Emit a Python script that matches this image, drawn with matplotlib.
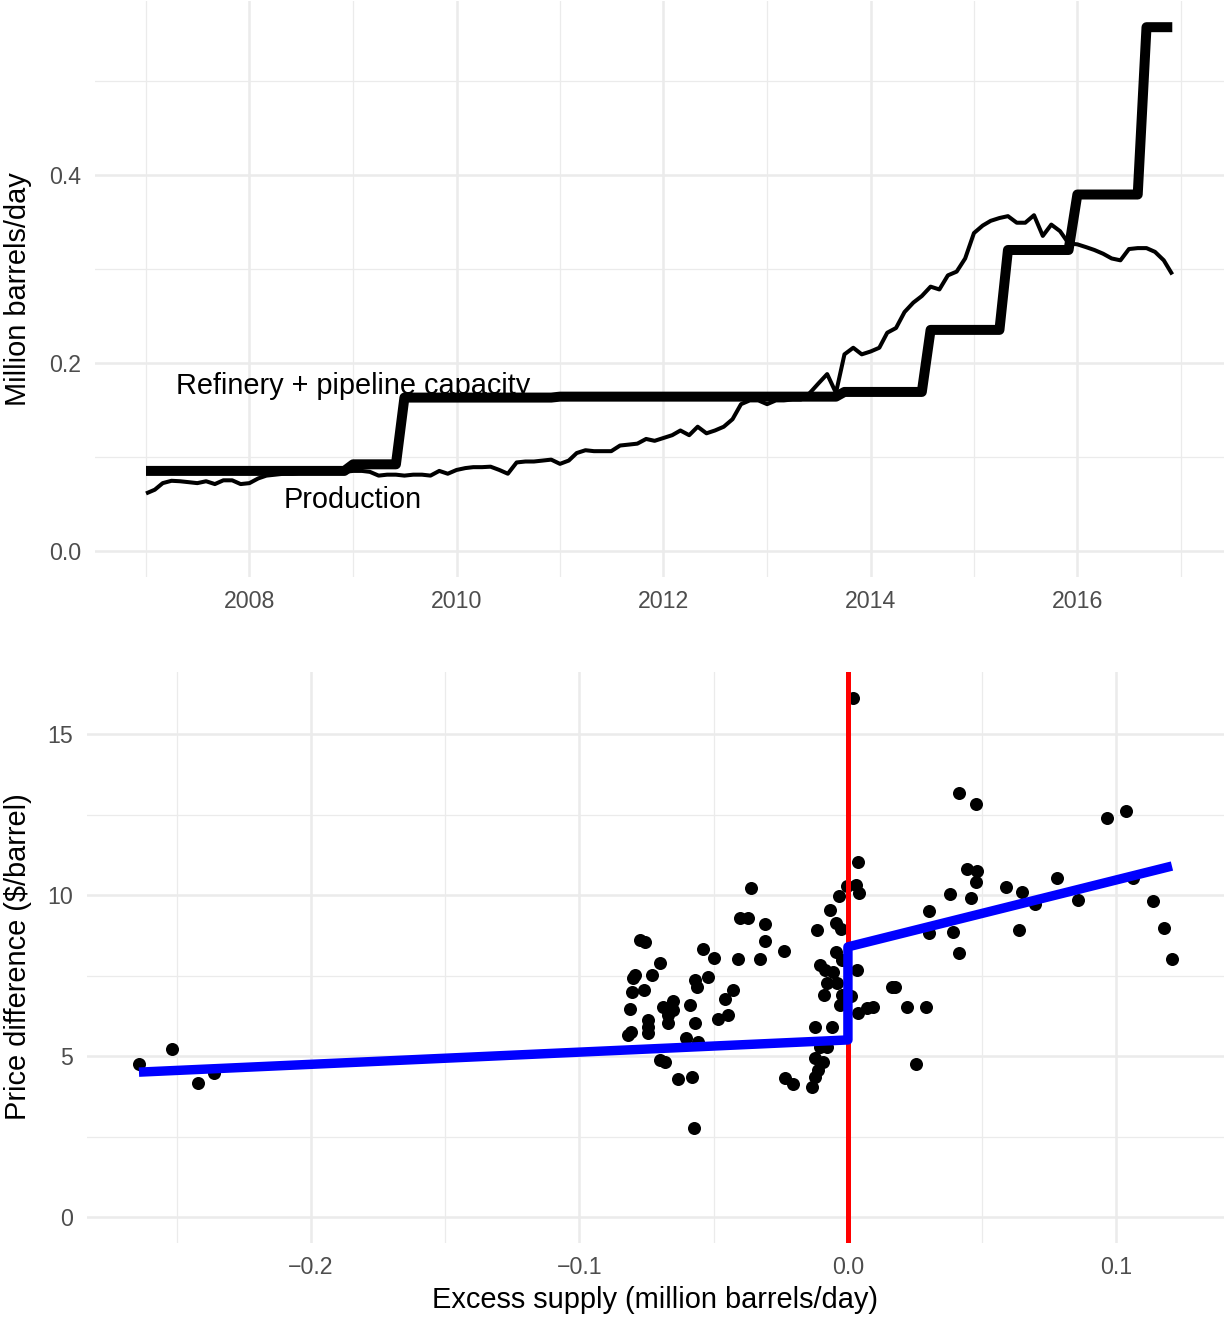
import pandas as pd
import matplotlib
matplotlib.use("Agg")
import matplotlib.pyplot as plt
import matplotlib.dates as mdates

plt.rcParams['font.family'] = ['Liberation Sans', 'DejaVu Sans']

# ---- top panel data: monthly, Jan 2007 .. Dec 2016 (million barrels/day)
months = pd.date_range('2007-01-01', periods=120, freq='MS')

production = [
    0.061, 0.065, 0.072, 0.0745, 0.074, 0.073, 0.072, 0.074, 0.071, 0.075, 0.075, 0.071,   # 2007
    0.072, 0.077, 0.080, 0.081, 0.082, 0.082, 0.083, 0.083, 0.084, 0.084, 0.083, 0.084,    # 2008
    0.085, 0.085, 0.084, 0.080, 0.081, 0.081, 0.080, 0.081, 0.081, 0.080, 0.085, 0.082,    # 2009
    0.086, 0.088, 0.089, 0.089, 0.0895, 0.086, 0.082, 0.094, 0.095, 0.095, 0.096, 0.097,   # 2010
    0.0925, 0.096, 0.104, 0.107, 0.106, 0.106, 0.106, 0.112, 0.113, 0.114, 0.119, 0.117,   # 2011
    0.120, 0.123, 0.128, 0.123, 0.132, 0.125, 0.128, 0.132, 0.140, 0.156, 0.160, 0.160,    # 2012
    0.156, 0.160, 0.160, 0.161, 0.161, 0.168, 0.178, 0.188, 0.168, 0.209, 0.216, 0.209,    # 2013
    0.212, 0.216, 0.232, 0.237, 0.254, 0.264, 0.271, 0.281, 0.278, 0.293, 0.297, 0.311,    # 2014
    0.338, 0.346, 0.351, 0.354, 0.356, 0.349, 0.349, 0.357, 0.335, 0.347, 0.340, 0.327,    # 2015
    0.326, 0.323, 0.320, 0.316, 0.311, 0.309, 0.321, 0.322, 0.322, 0.318, 0.309, 0.294,    # 2016
]

capacity = [
    0.085, 0.085, 0.085, 0.085, 0.085, 0.085, 0.085, 0.085, 0.085, 0.085, 0.085, 0.085,  # 2007
    0.085, 0.085, 0.085, 0.085, 0.085, 0.085, 0.085, 0.085, 0.085, 0.085, 0.085, 0.085,  # 2008
    0.092, 0.092, 0.092, 0.092, 0.092, 0.092, 0.163, 0.163, 0.163, 0.163, 0.163, 0.163,  # 2009
    0.163, 0.163, 0.163, 0.163, 0.163, 0.163, 0.163, 0.163, 0.163, 0.163, 0.163, 0.163,  # 2010
    0.164, 0.164, 0.164, 0.164, 0.164, 0.164, 0.164, 0.164, 0.164, 0.164, 0.164, 0.164,  # 2011
    0.164, 0.164, 0.164, 0.164, 0.164, 0.164, 0.164, 0.164, 0.164, 0.164, 0.164, 0.164,  # 2012
    0.164, 0.164, 0.164, 0.164, 0.164, 0.164, 0.164, 0.164, 0.164, 0.169, 0.169, 0.169,  # 2013
    0.169, 0.169, 0.169, 0.169, 0.169, 0.169, 0.169, 0.235, 0.235, 0.235, 0.235, 0.235,  # 2014
    0.235, 0.235, 0.235, 0.235, 0.320, 0.320, 0.320, 0.320, 0.320, 0.320, 0.320, 0.320,  # 2015
    0.379, 0.379, 0.379, 0.379, 0.379, 0.379, 0.379, 0.379, 0.557, 0.557, 0.557, 0.557,  # 2016
]

# ---- bottom panel data
excess_supply = [
    -0.2641, -0.2518, -0.2421, -0.2361,
    -0.0812, -0.0804, -0.0760, -0.0793, -0.0801, -0.0730, -0.0775, -0.0756, -0.0700,
    -0.0689, -0.0652, -0.0670, -0.0652, -0.0670, -0.0745, -0.0745, -0.0745, -0.0808,
    -0.0819, -0.0603, -0.0559, -0.0700, -0.0682, -0.0633, -0.0581, -0.0574, -0.0588,
    -0.0570, -0.0540, -0.0499, -0.0521, -0.0570, -0.0562, -0.0458, -0.0428, -0.0484,
    -0.0447, -0.0410, -0.0402, -0.0372, -0.0361, -0.0309, -0.0309, -0.0328, -0.0238,
    -0.0115, -0.0067, -0.0045, -0.0026, -0.0034, -0.0004, 0.0030, 0.0041, 0.0037,
    0.0019, -0.0045, -0.0022, -0.0104, -0.0086, -0.0056, 0.0034, -0.0078, -0.0041,
    -0.0089, -0.0022, 0.0011, -0.0030, 0.0037, 0.0071, 0.0093, -0.0123, -0.0060,
    -0.0104, -0.0078, -0.0123, -0.0093, -0.0112, -0.0123, -0.0134, -0.0235, -0.0205,
    0.0164, 0.0175, 0.0220, 0.0291, 0.0253, 0.0302, 0.0302, 0.0391, 0.0413, 0.0380,
    0.0458, 0.0443, 0.0480, 0.0477, 0.0413, 0.0477, 0.0588, 0.0648, 0.0637, 0.0696,
    0.0778, 0.0857, 0.0965, 0.1035, 0.1061, 0.1136, 0.1177, 0.1207,
]
price_diff = [
    4.75, 5.22, 4.16, 4.47,
    6.46, 6.99, 7.05, 7.52, 7.42, 7.52, 8.60, 8.54, 7.89,
    6.52, 6.71, 6.27, 6.43, 6.02, 6.12, 5.90, 5.71, 5.75,
    5.65, 5.56, 5.43, 4.88, 4.81, 4.29, 4.35, 2.76, 6.58,
    6.02, 8.32, 8.04, 7.45, 7.36, 7.14, 6.77, 7.05, 6.15,
    6.27, 8.01, 9.29, 9.29, 10.22, 9.10, 8.57, 8.01, 8.26,
    8.91, 9.53, 9.13, 8.94, 9.97, 10.28, 10.31, 10.06, 11.02,
    16.12, 8.23, 7.98, 7.83, 7.67, 7.61, 7.67, 7.27, 7.27,
    6.89, 6.89, 6.86, 6.58, 6.34, 6.49, 6.52, 5.90, 5.90,
    5.28, 5.28, 4.94, 4.81, 4.57, 4.35, 4.04, 4.32, 4.13,
    7.14, 7.14, 6.52, 6.52, 4.75, 9.50, 8.82, 8.85, 8.20, 10.03,
    9.91, 10.81, 10.75, 10.40, 13.17, 12.83, 10.25, 10.09, 8.91, 9.72,
    10.53, 9.84, 12.39, 12.61, 10.53, 9.81, 8.98, 8.01,
]
# fitted piecewise line, with the jump at zero excess supply
fit_x = [-0.2641, 0.0, 0.0, 0.1207]
fit_y = [4.50, 5.50, 8.39, 10.90]

# ---- layout (pixels)
W, H = 1225, 1317
fig = plt.figure(figsize=(W / 100, H / 100), dpi=100)


def add_axes_px(left, top, right, bottom):
    return fig.add_axes([left / W, 1 - bottom / H, (right - left) / W, (bottom - top) / H])


grid_col = '#EBEBEB'
tick_col = '#4D4D4D'
tick_fs = 16.7
title_fs = 20.9


def style(ax):
    for s in ax.spines.values():
        s.set_visible(False)
    ax.grid(which='major', color=grid_col, lw=1.8)
    ax.grid(which='minor', color=grid_col, lw=0.9)
    ax.set_axisbelow(True)
    ax.tick_params(which='both', length=0, labelsize=tick_fs, labelcolor=tick_col)
    ax.tick_params(axis='x', pad=9)
    ax.tick_params(axis='y', pad=10)


def expand(lo, hi, frac=0.05):
    d = (hi - lo) * frac
    return lo - d, hi + d


# ---- top panel
ax1 = add_axes_px(94.7, 1, 1223.6, 577)
style(ax1)
x = mdates.date2num(months)
ax1.plot(x, capacity, color='black', lw=7.2, solid_capstyle='butt', solid_joinstyle='round', zorder=3)
ax1.plot(x, production, color='black', lw=2.9, solid_capstyle='butt', solid_joinstyle='round', zorder=3)
ax1.set_xlim(*expand(x[0], x[-1]))
ax1.set_ylim(*expand(0, max(capacity)))

major_years = [2008, 2010, 2012, 2014, 2016]
minor_years = [2007, 2009, 2011, 2013, 2015, 2017]
ax1.set_xticks([mdates.date2num(pd.Timestamp(f'{y}-01-01')) for y in major_years])
ax1.set_xticklabels([str(y) for y in major_years])
ax1.set_xticks([mdates.date2num(pd.Timestamp(f'{y}-01-01')) for y in minor_years], minor=True)
ax1.set_yticks([0, 0.2, 0.4])
ax1.set_yticklabels(['0.0', '0.2', '0.4'])
ax1.set_yticks([0.1, 0.3, 0.5], minor=True)

lab_x = mdates.date2num(pd.Timestamp('2009-01-01'))
ax1.text(lab_x, 0.175, 'Refinery + pipeline capacity', ha='center', va='center',
         fontsize=20.8, color='black', zorder=4)
ax1.text(lab_x, 0.054, 'Production', ha='center', va='center', fontsize=20.8, color='black', zorder=4)

fig.text(18 / W, 1 - 289 / H, 'Million barrels/day', rotation=90, ha='center', va='center',
         fontsize=title_fs, color='black')

# ---- bottom panel
ax2 = add_axes_px(87.3, 672, 1223.6, 1243)
style(ax2)
ax2.scatter(excess_supply, price_diff, s=88, color='black', linewidths=0, zorder=3)
ax2.axvline(0, color='red', lw=3.6, zorder=4)
ax2.plot(fit_x, fit_y, color='blue', lw=6.8, solid_capstyle='butt', solid_joinstyle='round', zorder=5)
ax2.set_xlim(*expand(min(excess_supply + fit_x), max(excess_supply + fit_x)))
ax2.set_ylim(*expand(0, max(price_diff)))

ax2.set_xticks([-0.2, -0.1, 0.0, 0.1])
ax2.set_xticklabels(['\u22120.2', '\u22120.1', '0.0', '0.1'])
ax2.set_xticks([-0.25, -0.15, -0.05, 0.05], minor=True)
ax2.set_yticks([0, 5, 10, 15])
ax2.set_yticklabels(['0', '5', '10', '15'])
ax2.set_yticks([2.5, 7.5, 12.5], minor=True)

fig.text(18 / W, 1 - 957 / H, 'Price difference ($/barrel)', rotation=90, ha='center', va='center',
         fontsize=title_fs, color='black')
fig.text(655.5 / W, 1 - 1300 / H, 'Excess supply (million barrels/day)', ha='center', va='center',
         fontsize=title_fs, color='black')

fig.savefig('out.png', dpi=100)
